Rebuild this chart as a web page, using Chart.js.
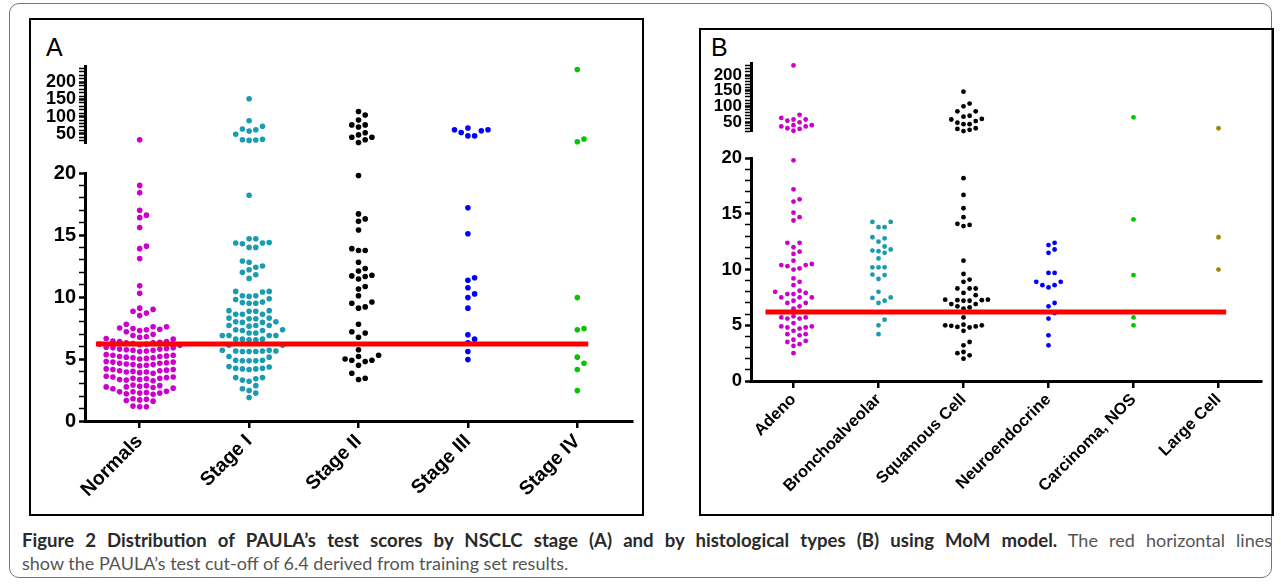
<!DOCTYPE html>
<html>
<head>
<meta charset="utf-8">
<script src="https://cdn.jsdelivr.net/npm/chart.js@4.4.1/dist/chart.umd.min.js"></script>
<style>
  body { margin:0; width:1281px; height:586px; background:#fff; position:relative; overflow:hidden; font-family:'Liberation Sans', Arial, sans-serif; }
  .frame { position:absolute; left:9px; top:3px; width:1261px; height:573px; border:1px solid #777; border-radius:10px; }
  .panel { position:absolute; border:2px solid #000; box-sizing:border-box; }
  #panelA { left:29px; top:18px; width:615px; height:498px; }
  #panelB { left:699px; top:28px; width:575px; height:488px; }
  .tag { position:absolute; font-size:25px; line-height:25px; color:#000; }
  canvas { position:absolute; }
  .cap { position:absolute; left:22px; width:1250px; font-family:Lato, sans-serif; font-size:18px; line-height:22px; color:#555; white-space:nowrap; }
  .cap b { color:#2a2a2a; font-size:18.6px; }
  #cap1 { top:529px; text-align:justify; text-align-last:justify; }
  #cap2 { top:552px; }
</style>
</head>
<body>
<div class="frame"></div>
<div class="panel" id="panelA"></div>
<div class="panel" id="panelB"></div>
<div class="tag" style="left:46px;top:35px;">A</div>
<div class="tag" style="left:711px;top:35px;">B</div>
<canvas id="aUp" width="611" height="104" style="left:31px;top:53px;"></canvas>
<canvas id="aLow" width="611" height="352" style="left:31px;top:158px;"></canvas>
<canvas id="bUp" width="568" height="95" style="left:701px;top:50px;"></canvas>
<canvas id="bLow" width="568" height="368" style="left:701px;top:144px;"></canvas>
<div class="cap" id="cap1"><b>Figure 2 Distribution of PAULA’s test scores by NSCLC stage (A) and by histological types (B) using MoM model.</b> The red horizontal lines</div>
<div class="cap" id="cap2">show the PAULA’s test cut-off of 6.4 derived from training set results.</div>
<script>
// panel A: scores by NSCLC stage
const stageLabels = ['Normals', 'Stage I', 'Stage II', 'Stage III', 'Stage IV'];
const normals = [33, 19.0, 18.4, 17.0, 16.6, 16.4, 15.6, 14.1, 13.9, 13.1, 10.9, 10.3, 9.1, 9.0, 8.85, 8.7, 8.5, 7.8,
  7.6, 7.6, 7.5, 7.45, 7.4, 7.35, 7.3, 7.2,
  7.0, 6.9, 6.8, 6.75, 6.65, 6.6,
  6.45, 6.4, 6.4, 6.35, 6.3, 6.3, 6.25, 6.2, 6.2, 6.15, 6.1,
  5.95, 5.9, 5.9, 5.85, 5.8, 5.8, 5.75, 5.7, 5.7, 5.65, 5.6,
  5.35, 5.3, 5.3, 5.25, 5.2, 5.2, 5.15, 5.1, 5.1, 5.05, 5.0,
  4.8, 4.75, 4.75, 4.7, 4.65, 4.65, 4.6, 4.55, 4.55, 4.5, 4.45,
  4.2, 4.15, 4.15, 4.1, 4.05, 4.05, 4.0, 3.95, 3.95, 3.9, 3.85,
  3.6, 3.55, 3.55, 3.5, 3.45, 3.45, 3.4, 3.35, 3.35, 3.3, 3.25,
  2.9, 2.85, 2.85, 2.8, 2.75, 2.75, 2.7, 2.65, 2.6,
  2.4, 2.35, 2.35, 2.3, 2.25, 2.25, 2.2, 2.15,
  1.8, 1.75, 1.7, 1.65, 1.6,
  1.2, 1.15, 1.15];
const stage1 = [152, 88, 72, 64, 62, 58, 49, 34, 33, 32, 31, 18.2,
  14.7, 14.7, 14.4, 14.35, 14.35, 14.3, 14.0, 14.0,
  12.9, 12.8, 12.5, 12.4, 12.2, 12.0, 11.8, 11.5,
  10.45, 10.45, 10.4, 10.1, 10.1, 10.05, 9.85, 9.8, 9.6, 9.55, 9.5, 9.5,
  8.9, 8.9, 8.85, 8.85, 8.6, 8.6, 8.6,
  8.3, 8.3, 8.25, 8.25, 8.0, 8.0, 7.95, 7.95,
  7.7, 7.7, 7.7, 7.65, 7.35, 7.35, 7.3, 7.3,
  7.1, 7.1, 6.9, 6.9, 6.9, 6.9,
  6.6, 6.6, 6.6, 6.55, 6.55, 6.1, 6.1,
  5.7, 5.65, 5.65, 5.6, 5.6, 5.6, 5.65, 5.7,
  5.2, 5.15, 4.9, 4.85, 4.85, 4.85, 4.9,
  4.35, 4.25, 4.2, 4.15, 4.2, 4.25, 4.4,
  3.5, 3.3, 3.4, 3.5, 3.2,
  2.85, 2.6, 2.45, 2.25, 1.9];
const stage2 = [115, 105, 90, 76, 76, 70, 53, 47, 40, 40, 33, 25,
  19.8, 16.7, 16.3, 16.1, 15.4, 13.9, 13.75, 13.75, 12.8, 12.3, 12.1, 11.75, 11.7, 11.65, 11.45,
  10.85, 10.65, 10.1, 9.6, 9.5, 9.2, 9.1, 7.8, 7.2, 7.1, 6.75, 5.75, 5.3, 5.2, 5.0, 4.9, 4.9, 4.8, 4.5,
  3.85, 3.45, 3.35];
const stage3 = [67, 62, 62, 59, 54, 44, 44, 17.2, 15.1, 11.55, 11.35, 10.75, 10.25, 9.95, 9.1, 6.95, 6.6, 6.3, 5.6, 4.95];
const stage4 = [237, 35, 27, 9.95, 7.45, 7.35, 5.15, 4.65, 4.15, 2.45];

// panel B: scores by histological type
const histLabels = ['Adeno', 'Bronchoalveolar', 'Squamous Cell', 'Neuroendocrine', 'Carcinoma, NOS', 'Large Cell'];
const adeno = [231, 73, 63, 58, 58, 54, 49, 40, 40, 36, 36, 30, 28, 22,
  19.8, 17.2, 16.3, 16.1, 15.1, 14.7, 14.4, 12.4, 12.4, 12.0, 11.6, 11.4, 10.8, 10.5, 10.4, 10.4, 10.3, 10.1, 10.0,
  9.2, 8.9, 8.6, 8.1, 8.0, 7.9, 7.8, 7.8, 7.5, 7.5, 7.5, 7.2, 7.0, 7.0, 6.7, 6.5, 5.8, 5.7, 5.7, 5.6, 5.6, 5.2,
  4.9, 4.9, 4.8, 4.8, 4.7, 4.5, 4.2, 4.2, 4.1, 3.7, 3.6, 3.5, 3.3, 3.15, 2.5];
const broncho = [14.27, 14.27, 13.8, 13.8, 12.9, 12.8, 12.5, 12.07, 11.8, 11.7, 11.65, 11.5, 11.0, 10.2, 10.2, 10.2,
  9.55, 9.5, 9.15, 8.0, 7.5, 7.45, 7.2, 7.0, 5.5, 5.0, 4.2];
const squamous = [147, 109, 100, 84, 84, 70, 67, 60, 58, 53, 48, 43, 43, 30, 28, 25, 21,
  18.2, 16.7, 15.5, 14.7, 14.1, 14.0, 13.9, 10.8, 9.6, 9.1, 8.9, 8.3, 8.3, 8.3, 7.9, 7.7, 7.3, 7.3, 7.25, 7.25,
  7.2, 7.2, 6.9, 6.9, 6.7, 6.6, 6.5, 5.7, 5.05, 5.0, 5.0, 4.95, 4.9, 4.85, 4.8, 4.5, 3.5, 3.2, 2.6, 2.5, 2.3, 2.0];
const neuro = [12.4, 12.2, 11.8, 11.5, 9.7, 9.7, 8.9, 8.9, 8.6, 8.6, 8.4, 7.0, 6.7, 6.1, 5.6, 4.1, 3.2];
const carcinoma = [65, 14.5, 9.5, 5.7, 5.0];
const largeCell = [30, 12.9, 10.0];

// axis ticks and the cut-off line
const lowerMajor = [0, 5, 10, 15, 20];
const upperMajor = [50, 100, 150, 200];
const breakValue = 20;
const cutoff = 6.2;
const cutoffSpanA = [-0.4, 4.1];
const cutoffSpanB = [-0.33, 5.09];

const colorsA = ['#cc00cc', '#1a9cb0', '#000000', '#0000ff', '#00c800'];
const colorsB = ['#cc00cc', '#1a9cb0', '#000000', '#0000ff', '#00c800', '#9a8a00'];

const FONT = "'Liberation Sans', Arial, sans-serif";

function range(a, b, step) {
  const out = [];
  for (let v = a; v <= b + 1e-9; v += step) out.push(Math.round(v * 100) / 100);
  return out;
}

// simple beeswarm: place each dot at the nearest free slot beside the center
function swarm(values, yScale, step, minDist) {
  const pts = values.map(v => ({ v, py: yScale.getPixelForValue(v) })).sort((a, b) => b.py - a.py);
  const placed = [];
  for (const p of pts) {
    for (let n = 0; n < 200; n++) {
      const slot = n === 0 ? 0 : (n % 2 ? (n + 1) / 2 : -n / 2);
      const px = slot * step;
      const hit = placed.some(q => (q.px - px) ** 2 + (q.py - p.py) ** 2 < minDist * minDist);
      if (!hit) { placed.push({ px, py: p.py, v: p.v }); break; }
    }
  }
  return placed;
}

function segmentChart(id, o) {
  return new Chart(document.getElementById(id), {
    type: 'scatter',
    data: { datasets: [] },
    options: {
      responsive: false,
      animation: false,
      devicePixelRatio: 1,
      layout: { autoPadding: false, padding: { left: 0, right: o.padRight, top: o.padTop, bottom: o.padBottom } },
      plugins: { legend: { display: false }, tooltip: { enabled: false } },
      scales: {
        x: {
          type: 'linear',
          min: -0.5,
          max: o.labels.length - 0.5,
          display: o.showX,
          afterBuildTicks: s => { s.ticks = o.labels.map((_, i) => ({ value: i })); },
          afterFit: s => { if (o.showX) s.height = o.xHeight; },
          border: { color: '#000', width: 3 },
          grid: { drawOnChartArea: false, color: '#000', lineWidth: 2.5, tickLength: 7 },
          ticks: {
            autoSkip: false, color: '#000', padding: 2, maxRotation: 45, minRotation: 45,
            font: { family: FONT, weight: 'bold', size: o.xFont },
            callback: v => o.labels[v]
          }
        },
        y: {
          min: o.min,
          max: o.max,
          afterBuildTicks: s => { s.ticks = o.tickValues.map(v => ({ value: v })); },
          afterFit: s => { s.width = o.yWidth; },
          border: { color: '#000', width: 3 },
          grid: {
            drawOnChartArea: false, color: '#000', tickLength: 6,
            tickWidth: c => (c.tick && o.major.includes(c.tick.value)) ? 2.5 : 1.5
          },
          ticks: {
            autoSkip: false, color: '#000', padding: 3,
            font: { family: FONT, weight: 'bold', size: o.yFont },
            callback: v => o.major.includes(v) ? String(v) : ''
          }
        }
      }
    }
  });
}

function fillDots(chart, groups, colors, keep, o) {
  const xs = chart.scales.x;
  const pxPerCat = xs.getPixelForValue(1) - xs.getPixelForValue(0);
  chart.data.datasets = groups.map((vals, i) => ({
    data: swarm(vals.filter(keep), chart.scales.y, o.step, o.minDist)
      .map(p => ({ x: i + p.px / pxPerCat, y: p.v })),
    backgroundColor: colors[i],
    borderWidth: 0,
    pointRadius: o.radius,
    clip: false,
    order: 1
  }));
  if (o.span) {
    chart.data.datasets.unshift({
      data: [{ x: o.span[0], y: cutoff }, { x: o.span[1], y: cutoff }],
      showLine: true, borderColor: '#ff0000', borderWidth: 5, pointRadius: 0, order: 0
    });
  }
  chart.update('none');
}

const upper = v => v > breakValue;
const lower = v => v <= breakValue;

// panel A
const groupsA = [normals, stage1, stage2, stage3, stage4];
const aUp = segmentChart('aUp', {
  labels: stageLabels, showX: false, min: 22.8, max: 245, tickValues: range(30, 240, 10), major: upperMajor,
  yWidth: 54, padRight: 10, padTop: 10, padBottom: 10, yFont: 18, xFont: 19
});
fillDots(aUp, groupsA, colorsA, upper, { step: 6.7, minDist: 6.3, radius: 2.8 });
const aLow = segmentChart('aLow', {
  labels: stageLabels, showX: true, min: 0, max: 20, tickValues: range(0, 20, 1), major: lowerMajor,
  yWidth: 54, padRight: 10, padTop: 10, padBottom: 0, xHeight: 89, yFont: 20, xFont: 19.5
});
fillDots(aLow, groupsA, colorsA, lower, { step: 6.7, minDist: 6.3, radius: 2.8, span: cutoffSpanA });

// panel B
const groupsB = [adeno, broncho, squamous, neuro, carcinoma, largeCell];
const bUp = segmentChart('bUp', {
  labels: histLabels, showX: false, min: 18.7, max: 238, tickValues: range(20, 230, 10), major: upperMajor,
  yWidth: 50, padRight: 8, padTop: 10, padBottom: 10, yFont: 17, xFont: 16.5
});
fillDots(bUp, groupsB, colorsB, upper, { step: 6.1, minDist: 5.6, radius: 2.4 });
const bLow = segmentChart('bLow', {
  labels: histLabels, showX: true, min: 0, max: 20, tickValues: range(0, 20, 1), major: lowerMajor,
  yWidth: 50, padRight: 8, padTop: 10, padBottom: 0, xHeight: 131, yFont: 18.5, xFont: 16.5
});
fillDots(bLow, groupsB, colorsB, lower, { step: 6.1, minDist: 5.6, radius: 2.4, span: cutoffSpanB });
</script>
</body>
</html>
